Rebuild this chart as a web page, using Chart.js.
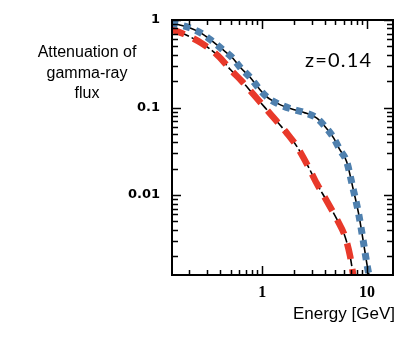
<!DOCTYPE html>
<html>
<head>
<meta charset="utf-8">
<script src="https://cdn.jsdelivr.net/npm/chart.js@4"></script>
<style>
  body { margin: 0; background: #fff; }
  #wrap { width: 413px; height: 337px; }
</style>
</head>
<body>
<div id="wrap"><canvas id="attChart" width="413" height="337"></canvas></div>
<script>
// total attenuation (blue dotted over black line)
var energyBlue = [0.135, 0.2, 0.26, 0.33, 0.41, 0.52, 0.62, 0.77, 0.92, 1.1, 1.43, 1.92, 2.5, 3.3, 4.1, 4.8, 5.5, 6.4, 7.3, 8.3, 9.2, 10.1, 10.8];
var attenBlue  = [0.93, 0.82, 0.71, 0.58, 0.47, 0.37, 0.286, 0.22, 0.168, 0.133, 0.11, 0.096, 0.088, 0.076, 0.058, 0.045, 0.033, 0.024, 0.0124, 0.0062, 0.0030, 0.0015, 0.001];
// red dashed curve
var energyRed = [0.13, 0.15, 0.18, 0.26, 0.38, 0.5, 0.64, 0.83, 1.07, 1.33, 1.72, 2.14, 2.76, 3.3, 4.1, 5.2, 6.2, 6.9, 7.4];
var attenRed  = [0.79, 0.75, 0.69, 0.55, 0.39, 0.27, 0.20, 0.14, 0.099, 0.073, 0.051, 0.036, 0.021, 0.0137, 0.0087, 0.0052, 0.0033, 0.0020, 0.0012];

var xTicks = [1, 10];
var yTicks = [0.01, 0.1, 1];
var xRange = [0.138, 17.7];
var yRange = [0.00122, 1];
var redshiftLabel = "z=0.14";
var yTitle = ["Attenuation of", "gamma-ray", "flux"];
var xTitle = "Energy [GeV]";

function pts(xs, ys) {
  return xs.map(function(v, i) { return {x: v, y: ys[i]}; });
}

// all log minor/major positions between lo and hi
function logMarks(lo, hi) {
  var out = [];
  for (var e = Math.floor(Math.log10(lo)); e <= Math.ceil(Math.log10(hi)); e++) {
    for (var m = 1; m <= 9; m++) {
      var v = m * Math.pow(10, e);
      if (v >= lo && v <= hi) out.push({value: v, major: m == 1});
    }
  }
  return out;
}

var frameTicks = {
  id: 'frameTicks',
  afterDatasetsDraw: function(chart) {
    var ctx = chart.ctx, a = chart.chartArea;
    var x = chart.scales.x, y = chart.scales.y;
    ctx.save();
    ctx.strokeStyle = '#000';
    ctx.lineWidth = 1.5;
    ctx.beginPath();
    logMarks(x.min, x.max).forEach(function(t) {
      var px = Math.round(x.getPixelForValue(t.value)) + 0.5;
      var len = t.major ? 9 : 5;
      ctx.moveTo(px, a.bottom); ctx.lineTo(px, a.bottom - len);
      ctx.moveTo(px, a.top); ctx.lineTo(px, a.top + len);
    });
    logMarks(y.min, y.max).forEach(function(t) {
      var py = Math.round(y.getPixelForValue(t.value)) + 0.5;
      var len = t.major ? 9 : 6;
      ctx.moveTo(a.left, py); ctx.lineTo(a.left + len, py);
      ctx.moveTo(a.right, py); ctx.lineTo(a.right - len, py);
    });
    ctx.stroke();
    ctx.lineWidth = 2;
    ctx.strokeRect(a.left, a.top, a.right - a.left, a.bottom - a.top);

    ctx.fillStyle = '#000';
    ctx.font = '20px Lato';
    ctx.letterSpacing = '1.2px';
    ctx.textAlign = 'left';
    ctx.textBaseline = 'alphabetic';
    ctx.fillText(redshiftLabel, 305, 67);
    ctx.letterSpacing = '0px';

    ctx.font = '16px "Liberation Sans"';
    ctx.textAlign = 'center';
    yTitle.forEach(function(s, i) {
      ctx.fillText(s, 87, 57 + i * 20.5);
    });
    ctx.font = '17px "Liberation Sans"';
    ctx.textAlign = 'right';
    ctx.fillText(xTitle, 395, 319);
    ctx.restore();
  }
};

new Chart(document.getElementById('attChart'), {
  type: 'line',
  data: {
    datasets: [
      {
        data: pts(energyBlue, attenBlue),
        borderColor: '#4f80ae',
        borderWidth: 7,
        borderDash: [7, 6],
        pointRadius: 0,
        cubicInterpolationMode: 'monotone',
        order: 1
      },
      {
        data: pts(energyRed, attenRed),
        borderColor: '#e8392a',
        borderWidth: 6.5,
        borderDash: [16, 10],
        pointRadius: 0,
        cubicInterpolationMode: 'monotone',
        order: 1
      },
      {
        data: pts(energyBlue, attenBlue),
        borderColor: '#000',
        borderWidth: 1.6,
        pointRadius: 0,
        cubicInterpolationMode: 'monotone',
        order: 2
      },
      {
        data: pts(energyRed, attenRed),
        borderColor: '#000',
        borderWidth: 1.6,
        borderDash: [9, 3],
        pointRadius: 0,
        cubicInterpolationMode: 'monotone',
        order: 2
      }
    ]
  },
  options: {
    responsive: false,
    animation: false,
    plugins: { legend: { display: false }, tooltip: { enabled: false } },
    layout: { padding: { top: 20, right: 20, left: 0, bottom: 0 } },
    scales: {
      x: {
        type: 'logarithmic',
        min: xRange[0],
        max: xRange[1],
        border: { display: false },
        grid: { display: false, drawTicks: false },
        afterBuildTicks: function(s) { s.ticks = xTicks.map(function(v) { return {value: v}; }); },
        afterFit: function(s) { s.height = 62; },
        ticks: {
          autoSkip: false,
          maxRotation: 0,
          padding: 8,
          color: '#000',
          font: { family: '"Liberation Serif"', size: 16, weight: 'bold' },
          callback: function(v) { return String(v); }
        }
      },
      y: {
        type: 'logarithmic',
        min: yRange[0],
        max: yRange[1],
        border: { display: false },
        grid: { display: false, drawTicks: false },
        afterBuildTicks: function(s) { s.ticks = yTicks.map(function(v) { return {value: v}; }); },
        afterFit: function(s) { s.width = 172; },
        ticks: {
          autoSkip: false,
          padding: 12,
          color: '#000',
          font: { family: '"DejaVu Sans"', size: 13, weight: 'bold' },
          callback: function(v) { return String(v); }
        }
      }
    }
  },
  plugins: [frameTicks]
});
</script>
</body>
</html>
